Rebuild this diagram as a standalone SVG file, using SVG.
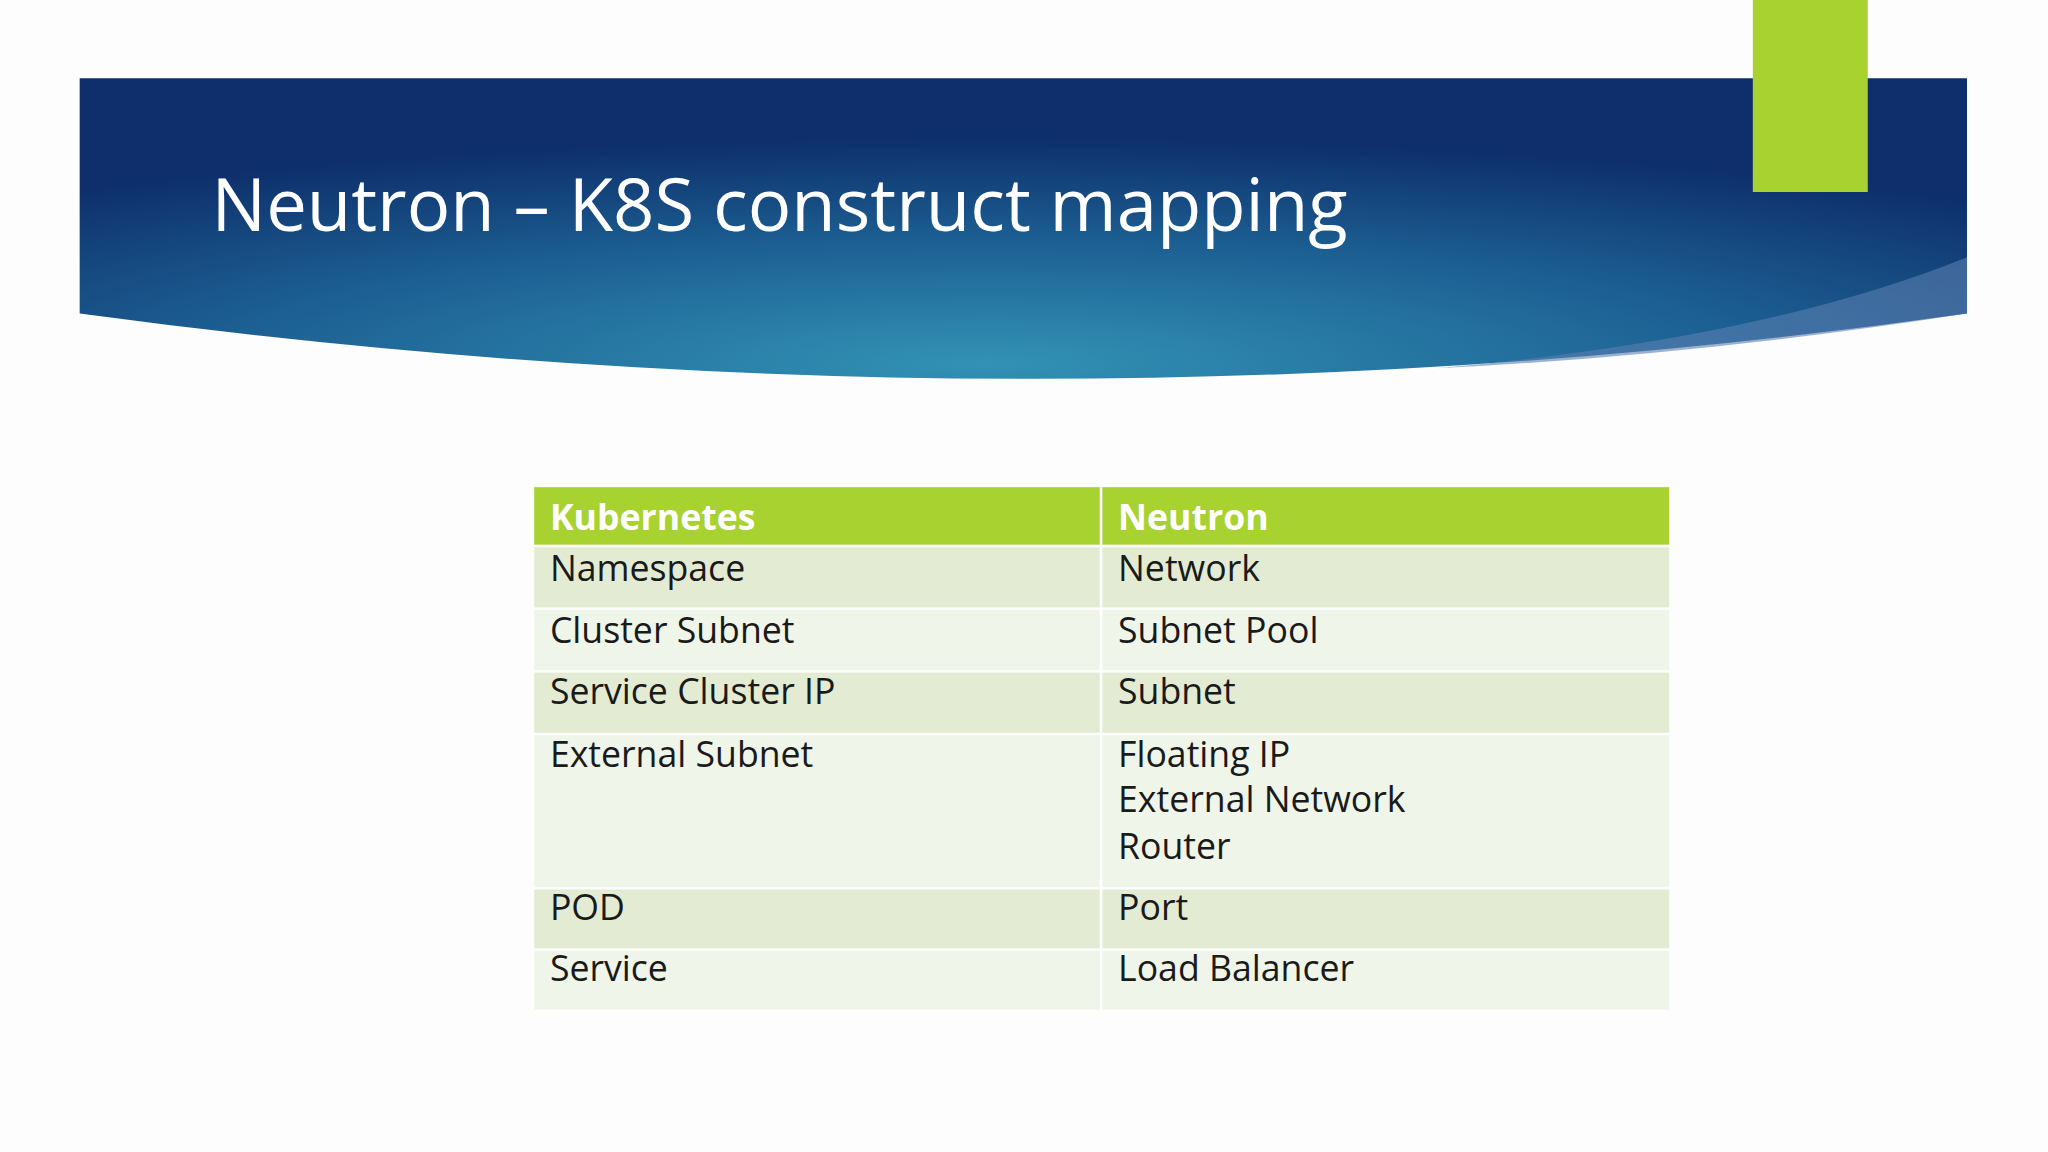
<svg xmlns="http://www.w3.org/2000/svg" width="2048" height="1152" viewBox="0 0 2048 1152">
<defs>
<radialGradient id="bg" cx="0.48" cy="0.95" r="0.75">
<stop offset="0" stop-color="#3292b5"/>
<stop offset="0.55" stop-color="#1c5f92"/>
<stop offset="1" stop-color="#0e2f6b"/>
</radialGradient>
<style>
.t{font-family:"Open Sans","Noto Sans",sans-serif;font-size:27.3px;fill:#1a1a1a}
.h{font-family:"Open Sans","Noto Sans",sans-serif;font-size:27.3px;fill:#fff;font-weight:bold}
.a{fill:#e3ecd3}.b{fill:#eff5e8}
</style>
</defs>
<rect width="2048" height="1152" fill="#fdfdfd"/>
<g transform="scale(1.30612)">
<g id="banner">
<path d="M61 60 H1506 V240 Q800 340 61 240 Z" fill="url(#bg)"/>
<path d="M1100 282 Q1350 260 1506 197 V240 Q1300 272 1100 282 Z" fill="#5a7fb0" opacity="0.6"/>
<rect x="1342" y="0" width="88" height="147" fill="#a8d22f"/>
<text x="162" y="177" font-family="Open Sans,Noto Sans,sans-serif" font-size="55.5" fill="#fff">Neutron – K8S construct mapping</text>
</g>
<g id="table">
<rect x="409" y="373" width="869" height="44" fill="#a8d22f"/>
<rect class="a" x="409" y="419" width="869" height="46"/>
<rect class="b" x="409" y="467" width="869" height="46"/>
<rect class="a" x="409" y="515" width="869" height="46"/>
<rect class="b" x="409" y="563" width="869" height="116"/>
<rect class="a" x="409" y="681" width="869" height="45"/>
<rect class="b" x="409" y="728" width="869" height="45"/>
<line x1="843" y1="373" x2="843" y2="773" stroke="#fff" stroke-width="2"/>
<text class="h" x="421" y="406">Kubernetes</text><text class="h" x="856" y="406">Neutron</text>
<text class="t" x="421" y="445">Namespace</text><text class="t" x="856" y="445">Network</text>
<text class="t" x="421" y="492">Cluster Subnet</text><text class="t" x="856" y="492">Subnet Pool</text>
<text class="t" x="421" y="539">Service Cluster IP</text><text class="t" x="856" y="539">Subnet</text>
<text class="t" x="421" y="587">External Subnet</text><text class="t" x="856" y="587">Floating IP</text>
<text class="t" x="856" y="622">External Network</text><text class="t" x="856" y="658">Router</text>
<text class="t" x="421" y="704">POD</text><text class="t" x="856" y="704">Port</text>
<text class="t" x="421" y="751">Service</text><text class="t" x="856" y="751">Load Balancer</text>
</g>
</g>
</svg>
